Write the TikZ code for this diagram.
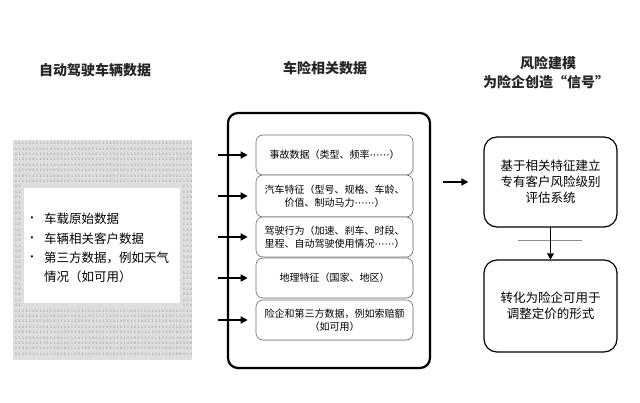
\documentclass[tikz,border=0pt]{standalone}
\usepackage{fontspec}
\setmainfont{Noto Sans CJK SC}
\newfontfamily\latin{Liberation Sans}
\newfontfamily\dvs{DejaVu Sans}
\usetikzlibrary{shadows,arrows.meta,shapes.geometric}
\begin{document}
\begin{tikzpicture}[x=1pt,y=-1pt,
  title/.style={font=\fontsize{14}{16}\selectfont\bfseries, text=black!85, align=center},
  inbox/.style={draw=black!55, line width=0.6pt, rounded corners=7pt, fill=white,
     minimum width=157pt, align=center, inner sep=0pt,
     font=\fontsize{10}{12.5}\selectfont,
     drop shadow={opacity=0.18, shadow xshift=0.8pt, shadow yshift=-1.2pt}},
  rbox/.style={draw=black, line width=1.2pt, rounded corners=13pt, fill=white,
     minimum width=133pt, align=center, inner sep=0pt,
     font=\fontsize{12.5}{16}\selectfont},
  arr/.style={line width=1.5pt, -{Triangle[length=7pt,width=7pt]}},
  shaft/.style={rectangle, fill=black, draw=none, inner sep=0pt,
     minimum width=1.3pt, minimum height=26pt},
  tiphead/.style={regular polygon, regular polygon sides=3, shape border rotate=180,
     fill=black, draw=none, inner sep=0pt, minimum size=8pt},
  btxt/.style={anchor=west, font=\fontsize{12.5}{17}\selectfont, inner sep=0pt},
  bul/.style={anchor=center, font=\latin\fontsize{8}{10}\selectfont, inner sep=0pt},
  digit/.style={font=\fontsize{3.4}{3.4}\selectfont, text=black!45, inner sep=0pt}
]
\useasboundingbox (0,0) rectangle (640,403);
\fill[white] (0,0) rectangle (640,403);

% titles
\node[title] (t1) at (95,70) {自动驾驶车辆数据};
\node[title] (t2) at (325,68) {车险相关数据};
\node[title] (t3) at (548,63) {风险建模};
\node[title] (t4) at (546,82) {为险企创造“信号”};

% left binary panel
\node[fill=black!13, minimum width=179pt, minimum height=220pt, inner sep=0pt] (lp) at (102.5,250) {};
\pgfmathsetseed{7}
\foreach \r in {0,...,39}{
  \foreach \c in {0,...,50}{
    \pgfmathsetmacro{\xx}{16+\c*3.5}
    \pgfmathsetmacro{\yy}{143.5+\r*5.4}
    \pgfmathtruncatemacro{\inside}{(\xx>22)&&(\xx<182)&&(\yy>185)&&(\yy<306)}
    \ifnum\inside=0
      \pgfmathrandominteger{\d}{0}{1}
      \node[digit] at (\xx,\yy) {\d};
    \fi
  }
}
\node[fill=white, minimum width=156pt, minimum height=115pt, inner sep=0pt] (lw) at (102,245.5) {};
\node[bul] (p1) at (32,219) {•};
\node[bul] (p2) at (32,239) {•};
\node[bul] (p3) at (32,258) {•};
\node[btxt] (b1) at (44,219) {车载原始数据};
\node[btxt] (b2) at (44,239) {车辆相关客户数据};
\node[btxt] (b3) at (44,258) {第三方数据，例如天气};
\node[btxt] (b4) at (44,277) {情况（如可用）};

% middle outer box
\node[draw=black, line width=2.2pt, rounded corners=10pt, minimum width=202pt, minimum height=255pt,
      drop shadow={opacity=0.15, shadow xshift=1pt, shadow yshift=-1.5pt}, fill=white] (outer) at (329,240.5) {};

\node[inbox, minimum height=40pt] (i1) at (334.5,155) {事故数据（类型、频率{\dvs ⋯⋯}）};
\node[inbox, minimum height=42pt] (i2) at (334.5,196) {汽车特征（型号、规格、车龄、\\价值、制动马力{\dvs ⋯⋯}）};
\node[inbox, minimum height=40pt] (i3) at (334.5,237) {驾驶行为（加速、刹车、时段、\\里程、自动驾驶使用情况{\dvs ⋯⋯}）};
\node[inbox, minimum height=40pt] (i4) at (334.5,278) {地理特征（国家、地区）};
\node[inbox, minimum height=40pt] (i5) at (334.5,320) {险企和第三方数据，例如索赔额\\（如可用）};

\foreach \i/\yv in {1/155,2/196,3/237,4/278,5/320}{
  \coordinate (s\i) at (218,\yv);
  \draw[arr, shorten >=8pt] (s\i) -- (i\i.west);
}

% right boxes
\node[rbox, minimum height=90pt] (r1) at (550.5,182) {基于相关特征建立\\专有客户风险级别\\评估系统};
\node[rbox, minimum height=92pt] (r2) at (550.5,306) {转化为险企可用于\\调整定价的形式};
\coordinate (m1) at (443,182);
\draw[arr, shorten >=15pt] (m1) -- (r1.west);
\coordinate (la) at (518,240);
\coordinate (lb) at (582,240);
\draw[black!45, line width=0.4pt] (la) -- (lb);
\node[shaft] (vs) at (550.5,240.5) {};
\node[tiphead] (vt) at (550.5,255.5) {};
\end{tikzpicture}
\end{document}
